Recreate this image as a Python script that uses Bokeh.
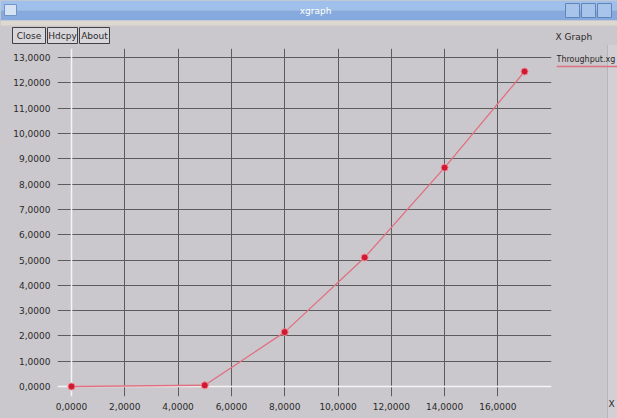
from bokeh.plotting import figure
from bokeh.models import FixedTicker, Span, Range1d
from bokeh.layouts import column, row
from bokeh.core.properties import value
from bokeh.embed import file_html
from bokeh.resources import INLINE

# ---- data ----
x_values = [0, 5, 8, 11, 14, 17]
throughput = [0.0, 0.05, 2.15, 5.1, 8.65, 12.45]
series_name = "Throughput.xg"
x_ticks = [0, 2, 4, 6, 8, 10, 12, 14, 16]
x_tick_labels = ["0,0000", "2,0000", "4,0000", "6,0000", "8,0000",
                 "10,0000", "12,0000", "14,0000", "16,0000"]
y_ticks = [0, 1, 2, 3, 4, 5, 6, 7, 8, 9, 10, 11, 12, 13]
y_tick_labels = ["0,0000", "1,0000", "2,0000", "3,0000", "4,0000", "5,0000",
                 "6,0000", "7,0000", "8,0000", "9,0000", "10,0000",
                 "11,0000", "12,0000", "13,0000"]
window_title = "xgraph"
graph_title = "X Graph"
x_unit = "X"
buttons = ["Close", "Hdcpy", "About"]

# ---- style ----
BG = "#cac8cc"
GRID = "#5c5c5c"
TXT = "#2a2a2a"
LINE = "#e07080"
MARK = "#d01830"
FONT = "DejaVu Sans"
FS = "9px"

TOTAL_W, TOTAL_H = 617, 418
HEAD_H = 44
MAIN_W = 556
STRIP_W = TOTAL_W - MAIN_W
BODY_H = TOTAL_H - HEAD_H

# pixel layout of the plotting area (window pixels)
FR_L, FR_R, FR_T, FR_B = 57, 551, 48, 396
X0, XS = 71.0, 26.65      # pixel of x=0, pixels per unit
Y0, YS = 386.0, 25.3      # pixel of y=0, pixels per unit


def chrome_fig(w, h, x0, y0):
    f = figure(width=w, height=h, output_backend="svg", toolbar_location=None,
               x_range=Range1d(x0, x0 + w), y_range=Range1d(y0 + h, y0),
               min_border=0, background_fill_color=BG, border_fill_color=BG,
               outline_line_color=None)
    f.axis.visible = False
    f.grid.visible = False
    f.frame_align = False
    return f


# ---- header (title bar + buttons + graph title) ----
head = chrome_fig(TOTAL_W, HEAD_H, 0, 0)
head.quad(left=[0], right=[TOTAL_W], top=[0], bottom=[10], fill_color="#9fc0ea",
          line_color=None)
head.quad(left=[0], right=[TOTAL_W], top=[10], bottom=[20], fill_color="#86aadd",
          line_color=None)
head.quad(left=[0], right=[TOTAL_W], top=[20], bottom=[25], fill_color="#ddd8d0",
          line_color=None)
head.quad(left=[4], right=[16], top=[4], bottom=[15], fill_color="#d4e2f4",
          line_color="#6f94c8")
head.quad(left=[565, 581, 597], right=[579, 595, 611], top=[3, 3, 3],
          bottom=[17, 17, 17], fill_color="#a9c4ea", line_color="#5f84b8")
head.text(x=[315], y=[10], text=[window_title], text_color="white",
          text_font=value(FONT), text_font_size=FS, text_align="center",
          text_baseline="middle")
btn_l = [12, 47, 79]
btn_r = [45, 77, 109]
head.quad(left=btn_l, right=btn_r, top=[27] * 3, bottom=[43] * 3,
          fill_color="#d8d6da", line_color="#404040", line_width=1)
head.text(x=[(a + b) / 2 for a, b in zip(btn_l, btn_r)], y=[35] * 3, text=buttons,
          text_color=TXT, text_font=value(FONT), text_font_size=FS,
          text_align="center", text_baseline="middle")
head.text(x=[555], y=[36], text=[graph_title], text_color=TXT,
          text_font=value(FONT), text_font_size=FS, text_align="left",
          text_baseline="middle")

# ---- main plot ----
p = figure(width=MAIN_W, height=BODY_H, output_backend="svg", toolbar_location=None,
           x_range=Range1d((FR_L - X0) / XS, (FR_R - X0) / XS),
           y_range=Range1d((Y0 - FR_B) / YS, (Y0 - FR_T) / YS),
           min_border_left=FR_L, min_border_right=MAIN_W - FR_R,
           min_border_top=FR_T - HEAD_H, min_border_bottom=TOTAL_H - FR_B,
           background_fill_color=BG, border_fill_color=BG,
           outline_line_color=None)
p.frame_align = False

for ax, ticks, labels in ((p.xaxis[0], x_ticks, x_tick_labels),
                          (p.yaxis[0], y_ticks, y_tick_labels)):
    ax.ticker = FixedTicker(ticks=ticks)
    ax.major_label_overrides = {t: l for t, l in zip(ticks, labels)}
    ax.axis_line_color = None
    ax.major_tick_line_color = None
    ax.minor_tick_line_color = None
    ax.major_tick_out = 0
    ax.major_tick_in = 0
    ax.major_label_text_font = FONT
    ax.major_label_text_font_size = FS
    ax.major_label_text_color = TXT
p.xaxis.major_label_standoff = 6
p.yaxis.major_label_standoff = 7

p.xgrid.ticker = FixedTicker(ticks=[t for t in x_ticks if t != 0])
p.ygrid.ticker = FixedTicker(ticks=[t for t in y_ticks if t != 0])
p.xgrid.grid_line_color = GRID
p.ygrid.grid_line_color = GRID

# zero axis lines drawn light as in xgraph
p.add_layout(Span(location=0, dimension="height", line_color="#f4f4f4",
                  line_width=1.5, level="underlay"))
p.add_layout(Span(location=0, dimension="width", line_color="#f4f4f4",
                  line_width=1.5, level="underlay"))

p.line(x_values, throughput, line_color=LINE, line_width=1.3)
p.scatter(x_values, throughput, size=7, fill_color=MARK, line_color="#f08a98",
          line_width=1)

# ---- right strip (legend + x unit) ----
strip = chrome_fig(STRIP_W, BODY_H, MAIN_W, HEAD_H)
strip.quad(left=[607], right=[TOTAL_W], top=[HEAD_H], bottom=[TOTAL_H],
           fill_color="#d2d0d4", line_color=None)
strip.segment(x0=[607], y0=[HEAD_H], x1=[607], y1=[TOTAL_H], line_color="#b8b6ba")
strip.text(x=[MAIN_W], y=[59], text=[series_name], text_color=TXT,
           text_font=value(FONT), text_font_size="8px", text_align="left",
           text_baseline="middle")
strip.segment(x0=[MAIN_W], y0=[66], x1=[TOTAL_W], y1=[66], line_color=LINE,
              line_width=1.5)
strip.text(x=[611], y=[403], text=[x_unit], text_color=TXT,
           text_font=value(FONT), text_font_size=FS, text_align="center",
           text_baseline="middle")

body = row(p, strip, spacing=0, styles={"background-color": BG})
layout = column(head, body, spacing=0, styles={"background-color": BG})
open("out.html", "w").write(file_html(layout, INLINE))
